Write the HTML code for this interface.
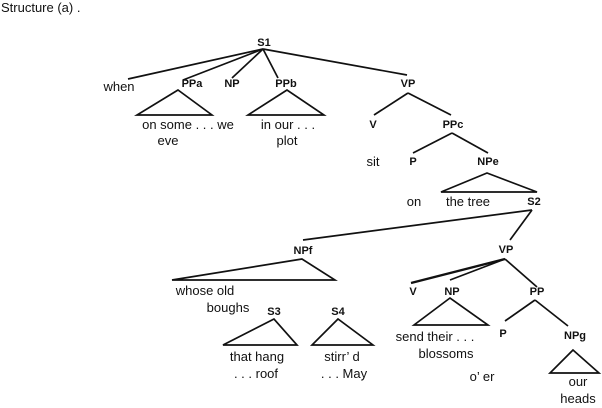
<!DOCTYPE html>
<html><head><style>
html,body{margin:0;padding:0;background:#fff;}
svg{display:block;}
text{font-family:"Liberation Sans",sans-serif;fill:#111;}
.l{font-size:11px;font-weight:bold;text-anchor:middle;}
.t{font-size:13px;text-anchor:middle;}
line,polygon{stroke:#111;stroke-width:1.7;fill:none;}
</style></head><body>
<svg width="602" height="408" viewBox="0 0 602 408">
<text x="1" y="12" style="font-size:13px">Structure (a) .</text>
<text class="l" x="264" y="46">S1</text>
<line x1="263" y1="49" x2="128" y2="79"/>
<line x1="263" y1="49" x2="183" y2="80"/>
<line x1="263" y1="49" x2="232" y2="78"/>
<line x1="263" y1="49" x2="278" y2="78"/>
<line x1="263" y1="49" x2="407" y2="75"/>
<text class="t" x="119" y="91">when</text>
<text class="l" x="192" y="87">PPa</text>
<text class="l" x="232" y="87">NP</text>
<text class="l" x="286" y="87">PPb</text>
<polygon points="178,90 137,115 212,115"/>
<text class="t" x="188" y="129">on some . . .  we</text>
<text class="t" x="168" y="145">eve</text>
<polygon points="287,90 248,115 324,115"/>
<text class="t" x="288" y="129">in our . . .</text>
<text class="t" x="287" y="145">plot</text>
<text class="l" x="408" y="87">VP</text>
<line x1="408" y1="93" x2="374" y2="115"/>
<line x1="408" y1="93" x2="451" y2="115"/>
<text class="l" x="373" y="128">V</text>
<text class="l" x="453" y="128">PPc</text>
<line x1="452" y1="133" x2="413" y2="153"/>
<line x1="452" y1="133" x2="488" y2="153"/>
<text class="t" x="373" y="166">sit</text>
<text class="l" x="413" y="165">P</text>
<text class="l" x="488" y="165">NPe</text>
<polygon points="487,173 441,192 537,192"/>
<text class="t" x="414" y="206">on</text>
<text class="t" x="468" y="206">the tree</text>
<text class="l" x="534" y="205">S2</text>
<line x1="532" y1="210" x2="303" y2="240"/>
<line x1="532" y1="210" x2="510" y2="240"/>
<text class="l" x="303" y="254">NPf</text>
<polygon points="302,259 172,280 335,280"/>
<text class="t" x="205" y="295">whose old</text>
<text class="t" x="228" y="312">boughs</text>
<text class="l" x="274" y="315">S3</text>
<polygon points="274,319 223,345 297,345"/>
<text class="t" x="257" y="361">that hang</text>
<text class="t" x="256" y="378">. . .   roof</text>
<text class="l" x="338" y="315">S4</text>
<polygon points="338,319 312,345 373,345"/>
<text class="t" x="342" y="361">stirr’ d</text>
<text class="t" x="344" y="378">. . . May</text>
<text class="l" x="506" y="253">VP</text>
<line x1="505" y1="259" x2="411" y2="283" style="stroke-width:2.4"/>
<line x1="505" y1="259" x2="450" y2="280"/>
<line x1="505" y1="259" x2="537" y2="287"/>
<text class="l" x="413" y="295">V</text>
<text class="l" x="452" y="295">NP</text>
<text class="l" x="537" y="295">PP</text>
<polygon points="450,298 414,325 488,325"/>
<text class="t" x="435" y="341">send their . . .</text>
<text class="t" x="446" y="358">blossoms</text>
<line x1="535" y1="300" x2="505" y2="321"/>
<line x1="535" y1="300" x2="568" y2="326"/>
<text class="l" x="503" y="337">P</text>
<text class="l" x="575" y="339">NPg</text>
<polygon points="573,350 550,373 599,373"/>
<text class="t" x="482" y="381">o’ er</text>
<text class="t" x="578" y="386">our</text>
<text class="t" x="578" y="403">heads</text>
</svg>
</body></html>
